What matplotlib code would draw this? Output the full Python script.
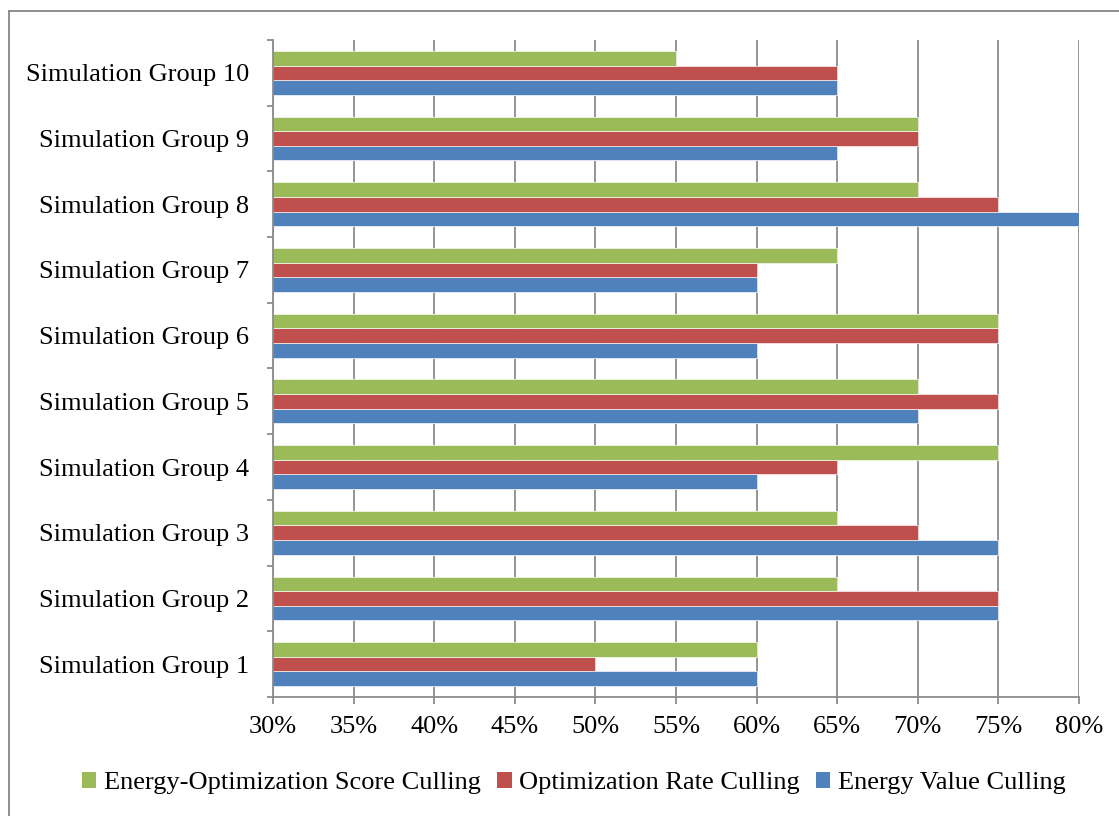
import matplotlib
matplotlib.use("Agg")
import matplotlib.pyplot as plt
import numpy as np
from matplotlib.lines import Line2D
from matplotlib.patches import Patch

categories = [f"Simulation Group {i}" for i in range(1, 11)]
energy_value = [60, 75, 75, 60, 70, 60, 60, 80, 65, 65]
optimization_rate = [50, 75, 70, 65, 75, 75, 60, 75, 70, 65]
energy_opt_score = [60, 65, 65, 75, 70, 75, 65, 70, 70, 55]
x_ticks = [30, 35, 40, 45, 50, 55, 60, 65, 70, 75, 80]
x_tick_labels = [f"{v}%" for v in x_ticks]

plt.rcParams["font.family"] = ["Liberation Serif", "DejaVu Serif"]
W, H = 1119, 816
fig = plt.figure(figsize=(W / 100, H / 100), dpi=100)

# outer chart frame
frame_color = "#878787"
fig.add_artist(Line2D([8.5 / W, 8.5 / W], [0, 1 - 11 / H], transform=fig.transFigure,
                      color=frame_color, lw=1.3))
fig.add_artist(Line2D([8.5 / W, 1], [1 - 11 / H, 1 - 11 / H], transform=fig.transFigure,
                      color=frame_color, lw=1.3))

left, right, top, bottom = 273, 1079, 40, 697
ax = fig.add_axes([left / W, 1 - bottom / H, (right - left) / W, (bottom - top) / H])

blue, red, green = "#4F81BD", "#C0504D", "#9BBB59"
y = np.arange(len(categories))
h = 1 / 4.5
ax.barh(y - h, energy_value, height=h, color=blue, edgecolor="#e8eef6", linewidth=0.6, zorder=3)
ax.barh(y, optimization_rate, height=h, color=red, edgecolor="#f3e4e4", linewidth=0.6, zorder=3)
ax.barh(y + h, energy_opt_score, height=h, color=green, edgecolor="#eef3e6", linewidth=0.6, zorder=3)

ax.set_xlim(30, 80)
ax.set_ylim(-0.5, len(categories) - 0.5)
ax.set_xticks(x_ticks)
ax.set_xticklabels(x_tick_labels)
ax.set_yticks(y)
ax.set_yticklabels(categories)
ax.set_yticks(np.arange(-0.5, len(categories), 1), minor=True)

grid_color = "#8c8c8c"
ax.grid(axis="x", color=grid_color, lw=1.3, zorder=1)
for s in ("top", "right"):
    ax.spines[s].set_visible(False)
for s in ("left", "bottom"):
    ax.spines[s].set_color(grid_color)
    ax.spines[s].set_linewidth(1.3)
    ax.spines[s].set_zorder(4)

ax.tick_params(axis="x", direction="out", length=5, width=1.3, color=grid_color,
               labelsize=19, pad=8.5)
ax.tick_params(axis="y", which="major", length=0, labelsize=19, pad=17)
ax.tick_params(axis="y", which="minor", direction="out", length=4, width=1.3, color=grid_color)

handles = [Patch(facecolor=green, label="Energy-Optimization Score Culling"),
           Patch(facecolor=red, label="Optimization Rate Culling"),
           Patch(facecolor=blue, label="Energy Value Culling")]
fig.legend(handles=handles, loc="center", bbox_to_anchor=(574 / W, 1 - 783 / H), ncol=3,
           frameon=False, fontsize=19, handlelength=0.55, handleheight=0.55,
           handletextpad=0.3, columnspacing=0.6)

fig.savefig("out.png", dpi=100)
